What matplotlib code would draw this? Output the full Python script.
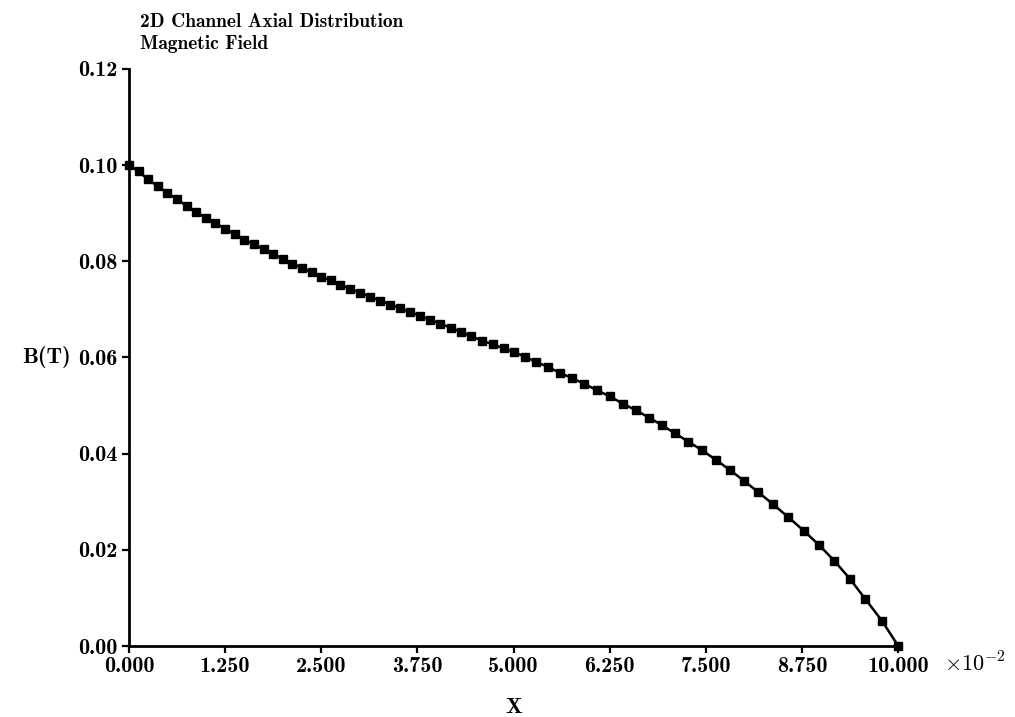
import matplotlib
matplotlib.use("Agg")
import matplotlib.pyplot as plt
from matplotlib.ticker import FormatStrFormatter

# axial position (units of 1e-2) and field B (T) at the mesh nodes
x_pos = [
    0.000, 0.125, 0.250, 0.375, 0.500, 0.625, 0.750, 0.875, 1.000, 1.125,
    1.250, 1.375, 1.500, 1.625, 1.750, 1.875, 2.000, 2.125, 2.250, 2.375,
    2.500, 2.625, 2.750, 2.880, 3.010, 3.140, 3.270, 3.400, 3.530, 3.660,
    3.790, 3.920, 4.050, 4.180, 4.310, 4.450, 4.590, 4.730, 4.870, 5.010,
    5.150, 5.290, 5.450, 5.600, 5.760, 5.920, 6.080, 6.250, 6.420, 6.590,
    6.760, 6.930, 7.100, 7.270, 7.450, 7.630, 7.810, 7.990, 8.180, 8.370,
    8.570, 8.770, 8.970, 9.170, 9.370, 9.570, 9.790, 10.000,
]
b_field = [
    0.1000, 0.0987, 0.0970, 0.0956, 0.0942, 0.0929, 0.0915, 0.0902, 0.0890, 0.0879,
    0.0868, 0.0856, 0.0845, 0.0835, 0.0825, 0.0815, 0.0805, 0.0795, 0.0786, 0.0777,
    0.0768, 0.0760, 0.0751, 0.0742, 0.0734, 0.0726, 0.0718, 0.0710, 0.0702, 0.0694,
    0.0686, 0.0678, 0.0670, 0.0662, 0.0653, 0.0644, 0.0635, 0.0627, 0.0619, 0.0611,
    0.0601, 0.0591, 0.0580, 0.0568, 0.0557, 0.0545, 0.0532, 0.0519, 0.0504, 0.0490,
    0.0475, 0.0459, 0.0442, 0.0425, 0.0407, 0.0387, 0.0366, 0.0344, 0.0320, 0.0295,
    0.0268, 0.0240, 0.0210, 0.0177, 0.0140, 0.0098, 0.0052, 0.0000,
]

x_ticks = [0.0, 1.25, 2.5, 3.75, 5.0, 6.25, 7.5, 8.75, 10.0]
y_ticks = [0.00, 0.02, 0.04, 0.06, 0.08, 0.10, 0.12]

plt.rcParams["font.family"] = ["cmb10", "DejaVu Serif"]
plt.rcParams["mathtext.fontset"] = "cm"
plt.rcParams["axes.unicode_minus"] = False

fig = plt.figure(figsize=(10.15, 7.17), dpi=100)
ax = fig.add_axes([0.127, 0.099, 0.758, 0.805])

ax.plot(x_pos, b_field, color="black", lw=1.8, marker="s", ms=5.4,
        mec="black", mfc="black", clip_on=False, zorder=3)

ax.set_xlim(0, 10)
ax.set_ylim(0, 0.12)
ax.set_xticks(x_ticks)
ax.set_yticks(y_ticks)
ax.xaxis.set_major_formatter(FormatStrFormatter("%.3f"))
ax.yaxis.set_major_formatter(FormatStrFormatter("%.2f"))
ax.tick_params(direction="out", length=5, width=1.6, labelsize=16, pad=3)

for side in ("top", "right"):
    ax.spines[side].set_visible(False)
for side in ("left", "bottom"):
    ax.spines[side].set_linewidth(2.0)

ax.set_xlabel("X", fontsize=16, labelpad=16)
ax.set_ylabel("B(T)", fontsize=16, rotation=0, labelpad=23, va="center")

fig.text(0.930, 0.063, r"$\times10^{-2}$", fontsize=16, ha="left", va="baseline")
fig.text(0.138, 0.963, "2D Channel Axial Distribution", fontsize=14, ha="left", va="baseline")
fig.text(0.138, 0.931, "Magnetic Field", fontsize=14, ha="left", va="baseline")

fig.savefig("out.png", dpi=100)
